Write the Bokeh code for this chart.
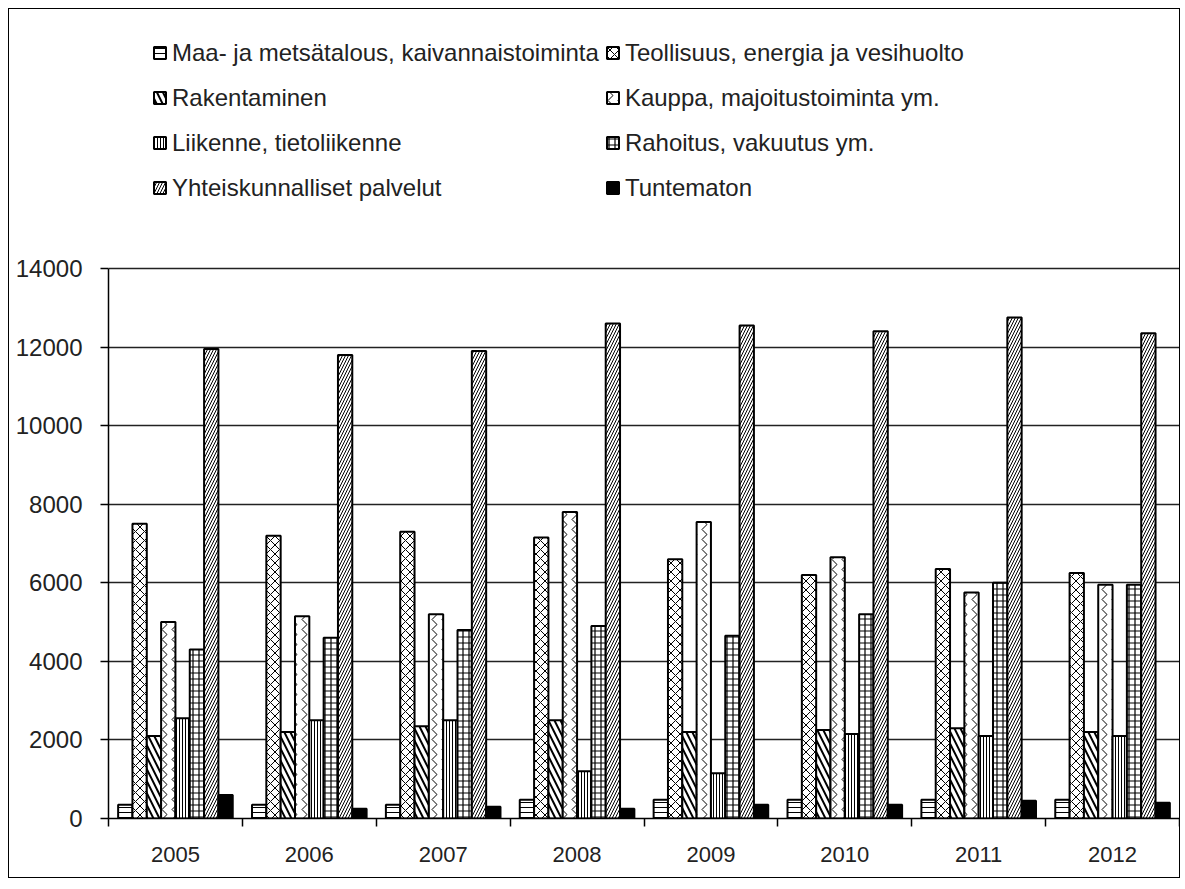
from bokeh.plotting import figure
from bokeh.models import FixedTicker, Legend, LegendItem
from bokeh.embed import file_html
from bokeh.resources import INLINE
import numpy as np

years = ["2005", "2006", "2007", "2008", "2009", "2010", "2011", "2012"]
series_names = [
    "Maa- ja metsätalous, kaivannaistoiminta",
    "Teollisuus, energia ja vesihuolto",
    "Rakentaminen",
    "Kauppa, majoitustoiminta ym.",
    "Liikenne, tietoliikenne",
    "Rahoitus, vakuutus ym.",
    "Yhteiskunnalliset palvelut",
    "Tuntematon",
]
maa = [350, 350, 350, 480, 480, 480, 480, 480]
teollisuus = [7500, 7200, 7300, 7150, 6600, 6200, 6350, 6250]
rakentaminen = [2100, 2200, 2350, 2500, 2200, 2250, 2300, 2200]
kauppa = [5000, 5150, 5200, 7800, 7550, 6650, 5750, 5950]
liikenne = [2550, 2500, 2500, 1200, 1150, 2150, 2100, 2100]
rahoitus = [4300, 4600, 4800, 4900, 4650, 5200, 6000, 5950]
yhteis = [11950, 11800, 11900, 12600, 12550, 12400, 12750, 12350]
tuntematon = [600, 250, 300, 250, 350, 350, 450, 400]
y_ticks = [0, 2000, 4000, 6000, 8000, 10000, 12000, 14000]
y_max = 14000

series = [maa, teollisuus, rakentaminen, kauppa, liikenne, rahoitus, yhteis, tuntematon]
styles = [
    dict(hatch_pattern="-", hatch_scale=5, hatch_weight=1, fill_color="white"),
    dict(hatch_pattern="x", hatch_scale=9, hatch_weight=1, fill_color="white"),
    dict(hatch_pattern="\\", hatch_scale=12, hatch_weight=2, fill_color="white"),
    dict(hatch_pattern=">", hatch_scale=10, hatch_weight=1, fill_color="white"),
    dict(hatch_pattern="|", hatch_scale=3, hatch_weight=1, fill_color="white"),
    dict(hatch_pattern="+", hatch_scale=6, hatch_weight=1.2, fill_color="white"),
    dict(hatch_pattern="/", hatch_scale=6, hatch_weight=1, fill_color="white"),
    dict(fill_color="black"),
]

FONT = "Liberation Sans"

H, TOP, BOTTOM = 870, 10, 61
frame_h = H - TOP - BOTTOM
axis_h = 550  # pixel height of the 0..14000 value axis
y_end = y_max * frame_h / axis_h  # leave room above the axis for the legend

p = figure(width=1172, height=H, output_backend="svg", toolbar_location=None,
           x_range=(-0.5, len(years) - 0.5), y_range=(0, y_end),
           min_border_left=99, min_border_right=2, min_border_top=TOP, min_border_bottom=BOTTOM)
p.styles = {"border": "1px solid black", "margin": "8px 0 0 8px"}
p.outline_line_color = None
p.xgrid.grid_line_color = None
p.ygrid.grid_line_color = "#222222"
p.ygrid.grid_line_width = 1.5
p.ygrid.ticker = FixedTicker(ticks=y_ticks)
p.ygrid.bounds = (-0.5, len(years) - 0.5)

n = len(series)
bw = 0.107
idx = np.arange(len(years))
items = []
for j, (vals, st) in enumerate(zip(series, styles)):
    xs = idx + (j - (n - 1) / 2) * bw
    r = p.vbar(x=xs, top=vals, width=bw, bottom=0, line_color="black", line_width=2,
               hatch_color="black", **st)
    items.append(LegendItem(label=series_names[j], renderers=[r]))

p.yaxis.ticker = FixedTicker(ticks=y_ticks)
p.yaxis.bounds = (0, y_max)
p.xaxis.ticker = FixedTicker(ticks=list(range(len(years))),
                             minor_ticks=[i - 0.5 for i in range(len(years) + 1)])
p.xaxis.major_label_overrides = {i: y for i, y in enumerate(years)}
for ax in (p.xaxis[0], p.yaxis[0]):
    ax.axis_line_color = "black"
    ax.axis_line_width = 1.5
    ax.major_label_text_font = FONT
    ax.major_label_text_color = "#222222"
p.xaxis.major_label_text_font_size = "22px"
p.yaxis.major_label_text_font_size = "24px"
p.xaxis.major_label_standoff = 20
p.yaxis.major_label_standoff = 18
p.xaxis.major_tick_line_color = None
p.xaxis.minor_tick_line_color = "black"
p.xaxis.minor_tick_line_width = 1.5
p.xaxis.minor_tick_out = 8
p.xaxis.minor_tick_in = 0
p.yaxis.major_tick_line_color = "black"
p.yaxis.major_tick_line_width = 1.5
p.yaxis.major_tick_out = 8
p.yaxis.major_tick_in = 0
p.yaxis.minor_tick_line_color = None

legend = Legend(items=items, ncols=2, orientation="horizontal", location=(44, 611))
legend.label_text_font = FONT
legend.label_text_font_size = "24px"
legend.label_text_color = "#222222"
legend.label_height = 39
legend.glyph_width = 15
legend.glyph_height = 15
legend.label_standoff = 5
legend.spacing = 6
legend.padding = 0
legend.margin = 0
legend.border_line_color = None
legend.background_fill_alpha = 0
p.add_layout(legend, "center")

html = file_html(p, INLINE)
open("out.html", "w").write(html)
